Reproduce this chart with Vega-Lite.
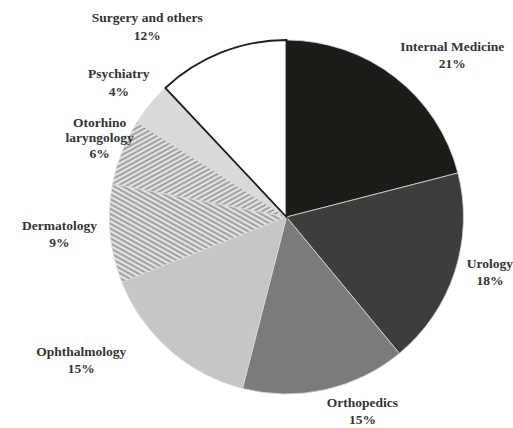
{
  "$schema": "https://vega.github.io/schema/vega-lite/v6.json",
  "width": 453,
  "height": 422,
  "autosize": "none",
  "padding": {"left": 60, "top": 6, "right": 0, "bottom": 0},
  "background": "white",
  "view": {"stroke": null},
  "data": {
    "values": [
      {"dept": "Internal Medicine", "label": "Internal Medicine\n21%", "value": 21, "order": 1},
      {"dept": "Urology", "label": "Urology\n18%", "value": 18, "order": 2},
      {"dept": "Orthopedics", "label": "Orthopedics\n15%", "value": 15, "order": 3},
      {"dept": "Ophthalmology", "label": "Ophthalmology\n15%", "value": 15, "order": 4},
      {"dept": "Dermatology", "label": "Dermatology\n9%", "value": 9, "order": 5},
      {"dept": "Otorhino laryngology", "label": "Otorhino\nlaryngology\n6%", "value": 6, "order": 6},
      {"dept": "Psychiatry", "label": "Psychiatry\n4%", "value": 4, "order": 7},
      {"dept": "Surgery and others", "label": "Surgery and others\n12%", "value": 12, "order": 8}
    ]
  },
  "transform": [
    {"stack": "value", "groupby": [], "sort": [{"field": "order", "order": "ascending"}], "as": ["v0", "v1"]},
    {"calculate": "(datum.v0 + datum.v1) / 2", "as": "mid"}
  ],
  "layer": [
    {
      "mark": {"type": "arc", "radius": 177, "strokeWidth": 1},
      "encoding": {
        "theta": {"field": "v0", "type": "quantitative", "scale": {"domain": [0, 100]}},
        "theta2": {"field": "v1"},
        "order": {"field": "order", "type": "quantitative"},
        "fill": {
          "condition": [
            {
              "test": "datum.dept === 'Dermatology'",
              "value": {
                "gradient": "linear", "x1": 0, "y1": 1, "x2": 1, "y2": 0,
                "stops": [
                  {"offset": 0, "color": "#959595"}, {"offset": 0.0125, "color": "#f2f2f2"}, {"offset": 0.025, "color": "#959595"}, {"offset": 0.0375, "color": "#f2f2f2"},
                  {"offset": 0.05, "color": "#959595"}, {"offset": 0.0625, "color": "#f2f2f2"}, {"offset": 0.075, "color": "#959595"}, {"offset": 0.0875, "color": "#f2f2f2"},
                  {"offset": 0.1, "color": "#959595"}, {"offset": 0.1125, "color": "#f2f2f2"}, {"offset": 0.125, "color": "#959595"}, {"offset": 0.1375, "color": "#f2f2f2"},
                  {"offset": 0.15, "color": "#959595"}, {"offset": 0.1625, "color": "#f2f2f2"}, {"offset": 0.175, "color": "#959595"}, {"offset": 0.1875, "color": "#f2f2f2"},
                  {"offset": 0.2, "color": "#959595"}, {"offset": 0.2125, "color": "#f2f2f2"}, {"offset": 0.225, "color": "#959595"}, {"offset": 0.2375, "color": "#f2f2f2"},
                  {"offset": 0.25, "color": "#959595"}, {"offset": 0.2625, "color": "#f2f2f2"}, {"offset": 0.275, "color": "#959595"}, {"offset": 0.2875, "color": "#f2f2f2"},
                  {"offset": 0.3, "color": "#959595"}, {"offset": 0.3125, "color": "#f2f2f2"}, {"offset": 0.325, "color": "#959595"}, {"offset": 0.3375, "color": "#f2f2f2"},
                  {"offset": 0.35, "color": "#959595"}, {"offset": 0.3625, "color": "#f2f2f2"}, {"offset": 0.375, "color": "#959595"}, {"offset": 0.3875, "color": "#f2f2f2"},
                  {"offset": 0.4, "color": "#959595"}, {"offset": 0.4125, "color": "#f2f2f2"}, {"offset": 0.425, "color": "#959595"}, {"offset": 0.4375, "color": "#f2f2f2"},
                  {"offset": 0.45, "color": "#959595"}, {"offset": 0.4625, "color": "#f2f2f2"}, {"offset": 0.475, "color": "#959595"}, {"offset": 0.4875, "color": "#f2f2f2"},
                  {"offset": 0.5, "color": "#959595"}, {"offset": 0.5125, "color": "#f2f2f2"}, {"offset": 0.525, "color": "#959595"}, {"offset": 0.5375, "color": "#f2f2f2"},
                  {"offset": 0.55, "color": "#959595"}, {"offset": 0.5625, "color": "#f2f2f2"}, {"offset": 0.575, "color": "#959595"}, {"offset": 0.5875, "color": "#f2f2f2"},
                  {"offset": 0.6, "color": "#959595"}, {"offset": 0.6125, "color": "#f2f2f2"}, {"offset": 0.625, "color": "#959595"}, {"offset": 0.6375, "color": "#f2f2f2"},
                  {"offset": 0.65, "color": "#959595"}, {"offset": 0.6625, "color": "#f2f2f2"}, {"offset": 0.675, "color": "#959595"}, {"offset": 0.6875, "color": "#f2f2f2"},
                  {"offset": 0.7, "color": "#959595"}, {"offset": 0.7125, "color": "#f2f2f2"}, {"offset": 0.725, "color": "#959595"}, {"offset": 0.7375, "color": "#f2f2f2"},
                  {"offset": 0.75, "color": "#959595"}, {"offset": 0.7625, "color": "#f2f2f2"}, {"offset": 0.775, "color": "#959595"}, {"offset": 0.7875, "color": "#f2f2f2"},
                  {"offset": 0.8, "color": "#959595"}, {"offset": 0.8125, "color": "#f2f2f2"}, {"offset": 0.825, "color": "#959595"}, {"offset": 0.8375, "color": "#f2f2f2"},
                  {"offset": 0.85, "color": "#959595"}, {"offset": 0.8625, "color": "#f2f2f2"}, {"offset": 0.875, "color": "#959595"}, {"offset": 0.8875, "color": "#f2f2f2"},
                  {"offset": 0.9, "color": "#959595"}, {"offset": 0.9125, "color": "#f2f2f2"}, {"offset": 0.925, "color": "#959595"}, {"offset": 0.9375, "color": "#f2f2f2"},
                  {"offset": 0.95, "color": "#959595"}, {"offset": 0.9625, "color": "#f2f2f2"}, {"offset": 0.975, "color": "#959595"}, {"offset": 0.9875, "color": "#f2f2f2"},
                  {"offset": 1, "color": "#959595"}
                ]
              }
            },
            {
              "test": "datum.dept === 'Otorhino laryngology'",
              "value": {
                "gradient": "linear", "x1": 0, "y1": 0, "x2": 1, "y2": 1,
                "stops": [
                  {"offset": 0, "color": "#959595"}, {"offset": 0.0125, "color": "#f2f2f2"}, {"offset": 0.025, "color": "#959595"}, {"offset": 0.0375, "color": "#f2f2f2"},
                  {"offset": 0.05, "color": "#959595"}, {"offset": 0.0625, "color": "#f2f2f2"}, {"offset": 0.075, "color": "#959595"}, {"offset": 0.0875, "color": "#f2f2f2"},
                  {"offset": 0.1, "color": "#959595"}, {"offset": 0.1125, "color": "#f2f2f2"}, {"offset": 0.125, "color": "#959595"}, {"offset": 0.1375, "color": "#f2f2f2"},
                  {"offset": 0.15, "color": "#959595"}, {"offset": 0.1625, "color": "#f2f2f2"}, {"offset": 0.175, "color": "#959595"}, {"offset": 0.1875, "color": "#f2f2f2"},
                  {"offset": 0.2, "color": "#959595"}, {"offset": 0.2125, "color": "#f2f2f2"}, {"offset": 0.225, "color": "#959595"}, {"offset": 0.2375, "color": "#f2f2f2"},
                  {"offset": 0.25, "color": "#959595"}, {"offset": 0.2625, "color": "#f2f2f2"}, {"offset": 0.275, "color": "#959595"}, {"offset": 0.2875, "color": "#f2f2f2"},
                  {"offset": 0.3, "color": "#959595"}, {"offset": 0.3125, "color": "#f2f2f2"}, {"offset": 0.325, "color": "#959595"}, {"offset": 0.3375, "color": "#f2f2f2"},
                  {"offset": 0.35, "color": "#959595"}, {"offset": 0.3625, "color": "#f2f2f2"}, {"offset": 0.375, "color": "#959595"}, {"offset": 0.3875, "color": "#f2f2f2"},
                  {"offset": 0.4, "color": "#959595"}, {"offset": 0.4125, "color": "#f2f2f2"}, {"offset": 0.425, "color": "#959595"}, {"offset": 0.4375, "color": "#f2f2f2"},
                  {"offset": 0.45, "color": "#959595"}, {"offset": 0.4625, "color": "#f2f2f2"}, {"offset": 0.475, "color": "#959595"}, {"offset": 0.4875, "color": "#f2f2f2"},
                  {"offset": 0.5, "color": "#959595"}, {"offset": 0.5125, "color": "#f2f2f2"}, {"offset": 0.525, "color": "#959595"}, {"offset": 0.5375, "color": "#f2f2f2"},
                  {"offset": 0.55, "color": "#959595"}, {"offset": 0.5625, "color": "#f2f2f2"}, {"offset": 0.575, "color": "#959595"}, {"offset": 0.5875, "color": "#f2f2f2"},
                  {"offset": 0.6, "color": "#959595"}, {"offset": 0.6125, "color": "#f2f2f2"}, {"offset": 0.625, "color": "#959595"}, {"offset": 0.6375, "color": "#f2f2f2"},
                  {"offset": 0.65, "color": "#959595"}, {"offset": 0.6625, "color": "#f2f2f2"}, {"offset": 0.675, "color": "#959595"}, {"offset": 0.6875, "color": "#f2f2f2"},
                  {"offset": 0.7, "color": "#959595"}, {"offset": 0.7125, "color": "#f2f2f2"}, {"offset": 0.725, "color": "#959595"}, {"offset": 0.7375, "color": "#f2f2f2"},
                  {"offset": 0.75, "color": "#959595"}, {"offset": 0.7625, "color": "#f2f2f2"}, {"offset": 0.775, "color": "#959595"}, {"offset": 0.7875, "color": "#f2f2f2"},
                  {"offset": 0.8, "color": "#959595"}, {"offset": 0.8125, "color": "#f2f2f2"}, {"offset": 0.825, "color": "#959595"}, {"offset": 0.8375, "color": "#f2f2f2"},
                  {"offset": 0.85, "color": "#959595"}, {"offset": 0.8625, "color": "#f2f2f2"}, {"offset": 0.875, "color": "#959595"}, {"offset": 0.8875, "color": "#f2f2f2"},
                  {"offset": 0.9, "color": "#959595"}, {"offset": 0.9125, "color": "#f2f2f2"}, {"offset": 0.925, "color": "#959595"}, {"offset": 0.9375, "color": "#f2f2f2"},
                  {"offset": 0.95, "color": "#959595"}, {"offset": 0.9625, "color": "#f2f2f2"}, {"offset": 0.975, "color": "#959595"}, {"offset": 0.9875, "color": "#f2f2f2"},
                  {"offset": 1, "color": "#959595"}
                ]
              }
            }
          ],
          "field": "dept",
          "type": "nominal",
          "legend": null,
          "scale": {
            "domain": ["Internal Medicine", "Urology", "Orthopedics", "Ophthalmology", "Dermatology", "Otorhino laryngology", "Psychiatry", "Surgery and others"],
            "range": ["#1c1d18", "#3d3d3b", "#7b7b79", "#c6c6c4", "#bdbdbd", "#c2c2c2", "#dadada", "#ffffff"]
          }
        },
        "stroke": {
          "condition": {"test": "datum.dept === 'Surgery and others'", "value": "#1e1e1e"},
          "value": "#d8d8d8"
        },
        "strokeWidth": {
          "condition": {"test": "datum.dept === 'Surgery and others'", "value": 1.8},
          "value": 0.8
        }
      }
    },
    {
      "transform": [{"filter": "datum.dept === 'Internal Medicine'"}],
      "mark": {"type": "text", "radius": 215, "dx": 34, "dy": 0, "font": "Liberation Serif", "fontWeight": "bold", "fontSize": 13.5, "lineBreak": "\n", "lineHeight": 17, "fill": "#333333"},
      "encoding": {"theta": {"field": "mid", "type": "quantitative", "scale": {"domain": [0, 100]}}, "text": {"field": "label"}}
    },
    {
      "transform": [{"filter": "datum.dept === 'Urology'"}],
      "mark": {"type": "text", "radius": 215, "dx": -1, "dy": -19, "font": "Liberation Serif", "fontWeight": "bold", "fontSize": 13.5, "lineBreak": "\n", "lineHeight": 17, "fill": "#333333"},
      "encoding": {"theta": {"field": "mid", "type": "quantitative", "scale": {"domain": [0, 100]}}, "text": {"field": "label"}}
    },
    {
      "transform": [{"filter": "datum.dept === 'Orthopedics'"}],
      "mark": {"type": "text", "radius": 215, "dx": 29, "dy": -24, "font": "Liberation Serif", "fontWeight": "bold", "fontSize": 13.5, "lineBreak": "\n", "lineHeight": 17, "fill": "#333333"},
      "encoding": {"theta": {"field": "mid", "type": "quantitative", "scale": {"domain": [0, 100]}}, "text": {"field": "label"}}
    },
    {
      "transform": [{"filter": "datum.dept === 'Ophthalmology'"}],
      "mark": {"type": "text", "radius": 215, "dx": -63, "dy": -26, "font": "Liberation Serif", "fontWeight": "bold", "fontSize": 13.5, "lineBreak": "\n", "lineHeight": 17, "fill": "#333333"},
      "encoding": {"theta": {"field": "mid", "type": "quantitative", "scale": {"domain": [0, 100]}}, "text": {"field": "label"}}
    },
    {
      "transform": [{"filter": "datum.dept === 'Dermatology'"}],
      "mark": {"type": "text", "radius": 215, "dx": -13, "dy": -11, "font": "Liberation Serif", "fontWeight": "bold", "fontSize": 13.5, "lineBreak": "\n", "lineHeight": 17, "fill": "#333333"},
      "encoding": {"theta": {"field": "mid", "type": "quantitative", "scale": {"domain": [0, 100]}}, "text": {"field": "label"}}
    },
    {
      "transform": [{"filter": "datum.dept === 'Otorhino laryngology'"}],
      "mark": {"type": "text", "radius": 215, "dx": 13, "dy": -15, "font": "Liberation Serif", "fontWeight": "bold", "fontSize": 13.5, "lineBreak": "\n", "lineHeight": 15.5, "fill": "#333333"},
      "encoding": {"theta": {"field": "mid", "type": "quantitative", "scale": {"domain": [0, 100]}}, "text": {"field": "label"}}
    },
    {
      "transform": [{"filter": "datum.dept === 'Psychiatry'"}],
      "mark": {"type": "text", "radius": 215, "dx": -2, "dy": -6, "font": "Liberation Serif", "fontWeight": "bold", "fontSize": 13.5, "lineBreak": "\n", "lineHeight": 18, "fill": "#333333"},
      "encoding": {"theta": {"field": "mid", "type": "quantitative", "scale": {"domain": [0, 100]}}, "text": {"field": "label"}}
    },
    {
      "transform": [{"filter": "datum.dept === 'Surgery and others'"}],
      "mark": {"type": "text", "radius": 215, "dx": -60, "dy": 1, "font": "Liberation Serif", "fontWeight": "bold", "fontSize": 13.5, "lineBreak": "\n", "lineHeight": 18, "fill": "#333333"},
      "encoding": {"theta": {"field": "mid", "type": "quantitative", "scale": {"domain": [0, 100]}}, "text": {"field": "label"}}
    }
  ]
}
